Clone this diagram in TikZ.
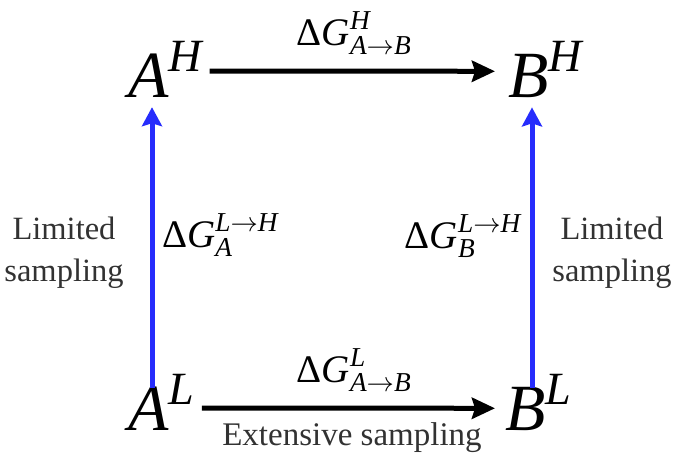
\RequirePackage{fix-cm}
\documentclass[tikz,border=0pt]{standalone}
\usepackage{amsmath}
\usepackage{fontspec}
\setmainfont{Liberation Serif}
\usetikzlibrary{arrows.meta}
\definecolor{arrowblue}{RGB}{38,44,252}
\definecolor{textgray}{RGB}{50,50,50}
\tikzset{
  bigmath/.style={inner sep=0pt, font=\fontsize{66}{70}\selectfont},
  dglabel/.style={inner sep=0pt, font=\fontsize{39}{42}\selectfont},
  samplabel/.style={inner sep=0pt, align=center, text=textgray, font=\fontsize{32.5}{42}\selectfont},
  harrow/.style={line width=5pt, -{Stealth[length=23pt,width=21pt,inset=3pt]}},
  varrow/.style={line width=5pt, draw=arrowblue, -{Stealth[length=19pt,width=20pt,inset=3pt]}},
}
\begin{document}
\begin{tikzpicture}[x=1pt,y=-1pt]
\useasboundingbox (0,0) rectangle (681,464);
% corner states
\node[bigmath, anchor=base west] (AH) at (128,97) {$\textit{A}^{\textit{H}}$};
\node[bigmath, anchor=base west] (BH) at (508,97) {$\textit{B}^{\textit{H}}$};
\node[bigmath, anchor=base west] (AL) at (128,430) {$\textit{A}^{\textit{L}}$};
\node[bigmath, anchor=base west] (BL) at (505,430) {$\textit{B}^{\textit{L}}$};
% free energy labels
\node[dglabel, anchor=base] (dGH) at (354,45) {$\text{Δ}\textit{G}^{\textit{H}}_{\textit{A}\rightarrow\textit{B}}$};
\node[dglabel, anchor=base] (dGL) at (354,382) {$\text{Δ}\textit{G}^{\textit{L}}_{\textit{A}\rightarrow\textit{B}}$};
\node[dglabel, anchor=base west] (dGA) at (162,247) {$\text{Δ}\textit{G}^{\textit{L}\rightarrow\textit{H}}_{\textit{A}}$};
\node[dglabel, anchor=base east] (dGB) at (521,248) {$\text{Δ}\textit{G}^{\textit{L}\rightarrow\textit{H}}_{\textit{B}}$};
% sampling labels
\node[samplabel] (limL) at (64,253) {Limited\\sampling};
\node[samplabel] (limR) at (612,253) {Limited\\sampling};
\node[samplabel, font=\fontsize{33}{42}\selectfont, anchor=base] (ext) at (352,445) {Extensive sampling};
% connectors
\draw[harrow] ([xshift=7pt,yshift=-2pt]AH.east) -- ([xshift=-13pt,yshift=-2pt]BH.west);
\draw[harrow] ([xshift=7pt,yshift=-6pt]AL.east) -- ([xshift=-10pt,yshift=-6pt]BL.west);
\draw[varrow] ([xshift=24pt,yshift=-14pt]AL.north west) -- ([xshift=24pt,yshift=-10pt]AH.south west);
\draw[varrow] ([xshift=27pt,yshift=-14pt]BL.north west) -- ([xshift=24pt,yshift=-10pt]BH.south west);
\end{tikzpicture}
\end{document}
